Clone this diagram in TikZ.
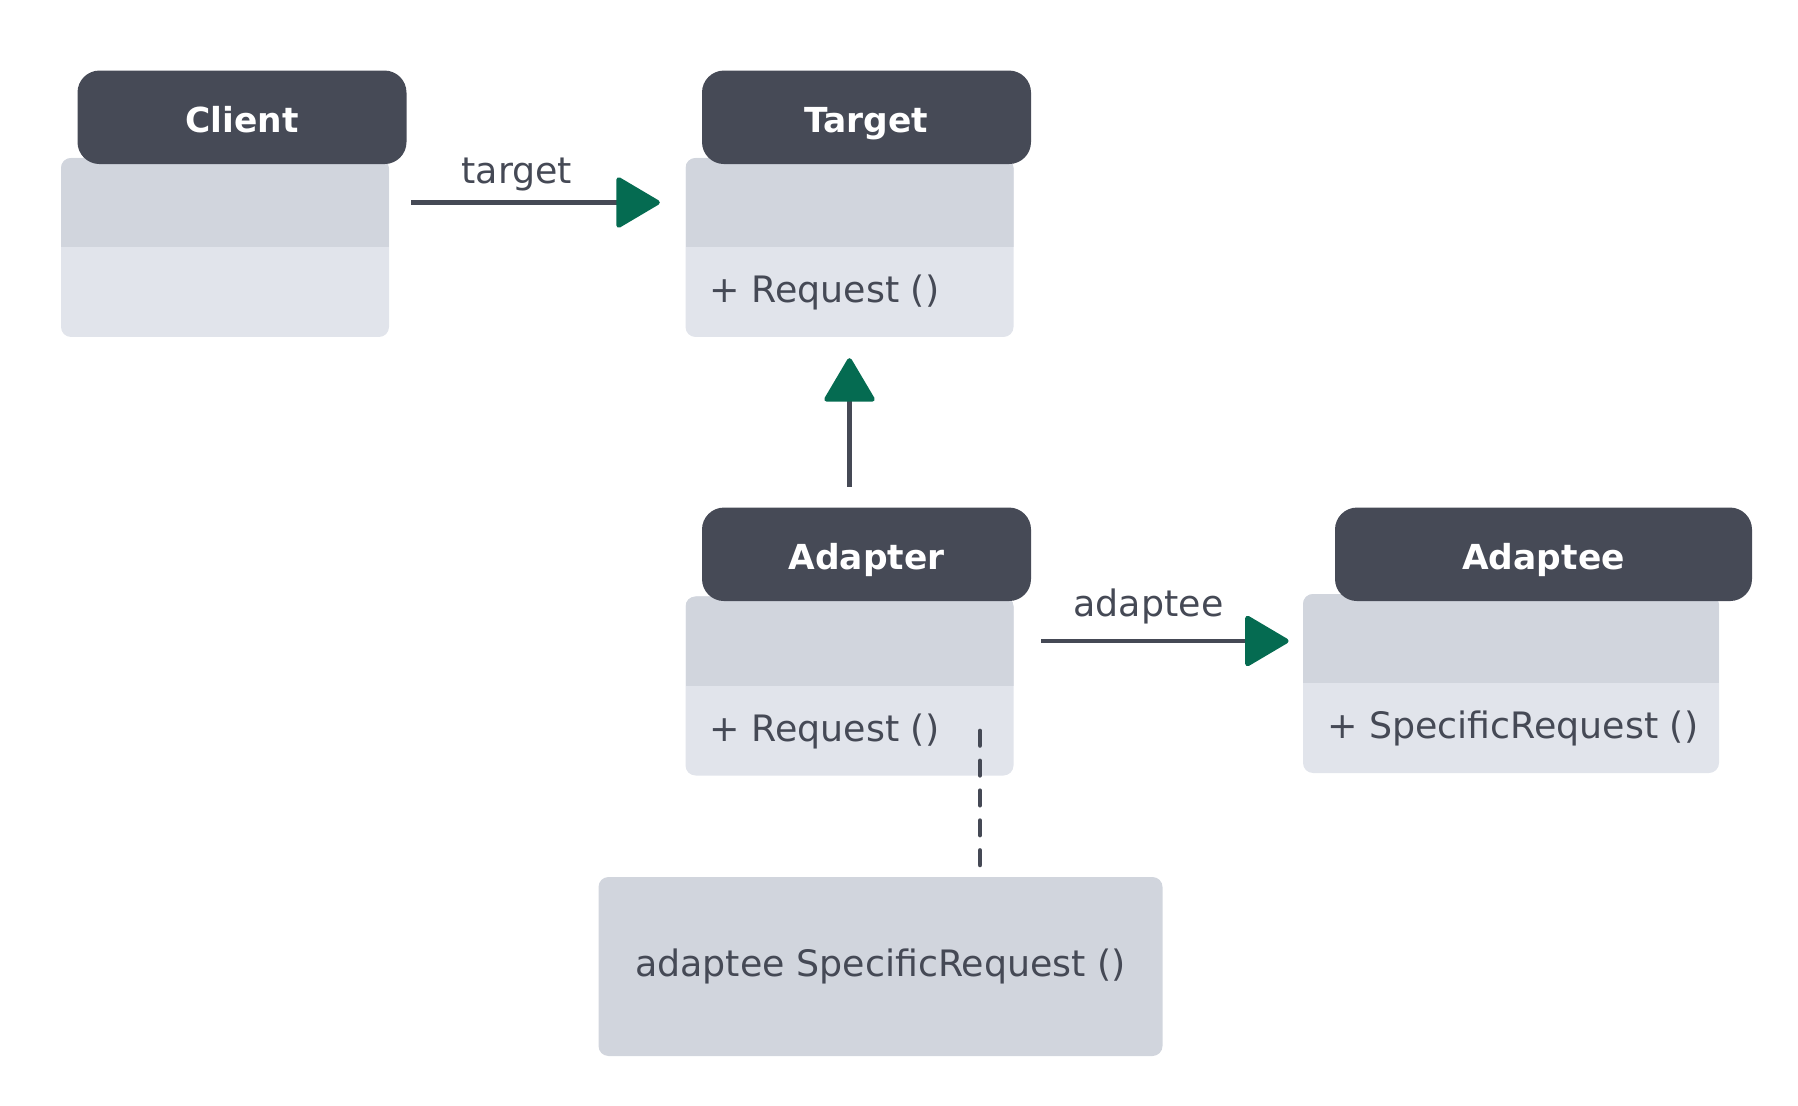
\documentclass[tikz,border=0pt]{standalone}
\usepackage{fontspec}
\setmainfont{DejaVu Sans}
\usetikzlibrary{arrows.meta,positioning}
\definecolor{headfill}{HTML}{464A56}
\definecolor{attrfill}{HTML}{D1D5DD}
\definecolor{opfill}{HTML}{E1E4EB}
\definecolor{inkgray}{HTML}{454955}
\definecolor{tipgreen}{HTML}{056B51}
\begin{document}
\begin{tikzpicture}[y=-1cm,
  font=\fontsize{10.35pt}{12pt}\selectfont,
  classhead/.style={fill=headfill, text=white, font=\fontsize{9.8pt}{12pt}\selectfont\bfseries, rounded corners=0.22cm, minimum width=3.29cm, minimum height=0.935cm, inner sep=0, text height=8.4pt, text depth=0pt},
  classbody/.style={fill=opfill, rounded corners=0.1cm, minimum width=3.28cm, minimum height=1.79cm, inner sep=0,
    path picture={\fill[attrfill, sharp corners] (path picture bounding box.north west) rectangle ([yshift=-0.89cm]path picture bounding box.north east);}},
  part/.style={minimum width=3.28cm, minimum height=0.89cm, inner sep=0},
  optext/.style={text=inkgray, inner sep=0},
  assoc/.style={draw=inkgray, line width=1.42pt, -{Triangle[length=0.46cm, width=0.53cm, round, color=tipgreen, fill=tipgreen]}},
  notelink/.style={draw=inkgray, line width=1.34pt, line cap=round, dash pattern=on 4.1pt off 4.4pt}]
\useasboundingbox (0,0) rectangle (17.98,11.06);
\def\topy{2.475}
\def\boty{6.86}

% classes
\node[classbody] (clientbody) at (2.25, \topy) {};
\node[classhead] (clienthead) at (2.42, 1.173) {Client};
\node[part, below=0pt of clientbody.north] (clientattr) {};

\node[classbody] (targetbody) at (8.495, \topy) {};
\node[classhead] (targethead) at (8.665, 1.173) {Target};
\node[part, below=0pt of targetbody.north] (targetattr) {};
\node[part, above=0pt of targetbody.south] (targetops) {};
\node[optext, right=0.24cm of targetops.west] {+ Request ()};

\node[classbody] (adapterbody) at (8.495, \boty) {};
\node[classhead] (adapterhead) at (8.665, 5.543) {Adapter};
\node[part, below=0pt of adapterbody.north] (adapterattr) {};
\node[part, above=0pt of adapterbody.south] (adapterops) {};
\node[optext, right=0.24cm of adapterops.west] {+ Request ()};

\node[classbody, minimum width=4.16cm] (adapteebody) at (15.11, \boty - 0.025) {};
\node[classhead, minimum width=4.17cm] (adapteehead) at (15.435, 5.543) {Adaptee};
\node[part, minimum width=4.16cm, below=0pt of adapteebody.north] (adapteeattr) {};
\node[part, minimum width=4.16cm, above=0pt of adapteebody.south] (adapteeops) {};
\node[optext, right=0.24cm of adapteeops.west] {+ SpecificRequest ()};

\node[fill=attrfill, rounded corners=0.1cm, minimum width=5.64cm, minimum height=1.79cm, text=inkgray] (note) at (8.805, 9.665) {adaptee SpecificRequest ()};

% edges
\draw[assoc, shorten <=0.217cm, shorten >=0.25cm] (clientattr.east) -- node[pos=0.431, anchor=base, yshift=0.192cm, text=inkgray] {target} (targetattr.west); % client to target
\draw[assoc, shorten <=0.2cm, shorten >=0.205cm] (adapterbody.north |- adapterhead.north) -- (targetbody.south); % adapter to target
\draw[assoc, shorten <=0.268cm, shorten >=0.137cm] (adapterattr.east) -- node[pos=0.466, anchor=base, yshift=0.246cm, text=inkgray] {adaptee} (adapterattr.east -| adapteeattr.west); % adapter to adaptee
\draw[notelink, shorten >=0.03cm] ([xshift=-0.342cm]adapterops.east) -- ([xshift=-0.342cm]adapterops.east |- note.north); % note
\end{tikzpicture}
\end{document}
